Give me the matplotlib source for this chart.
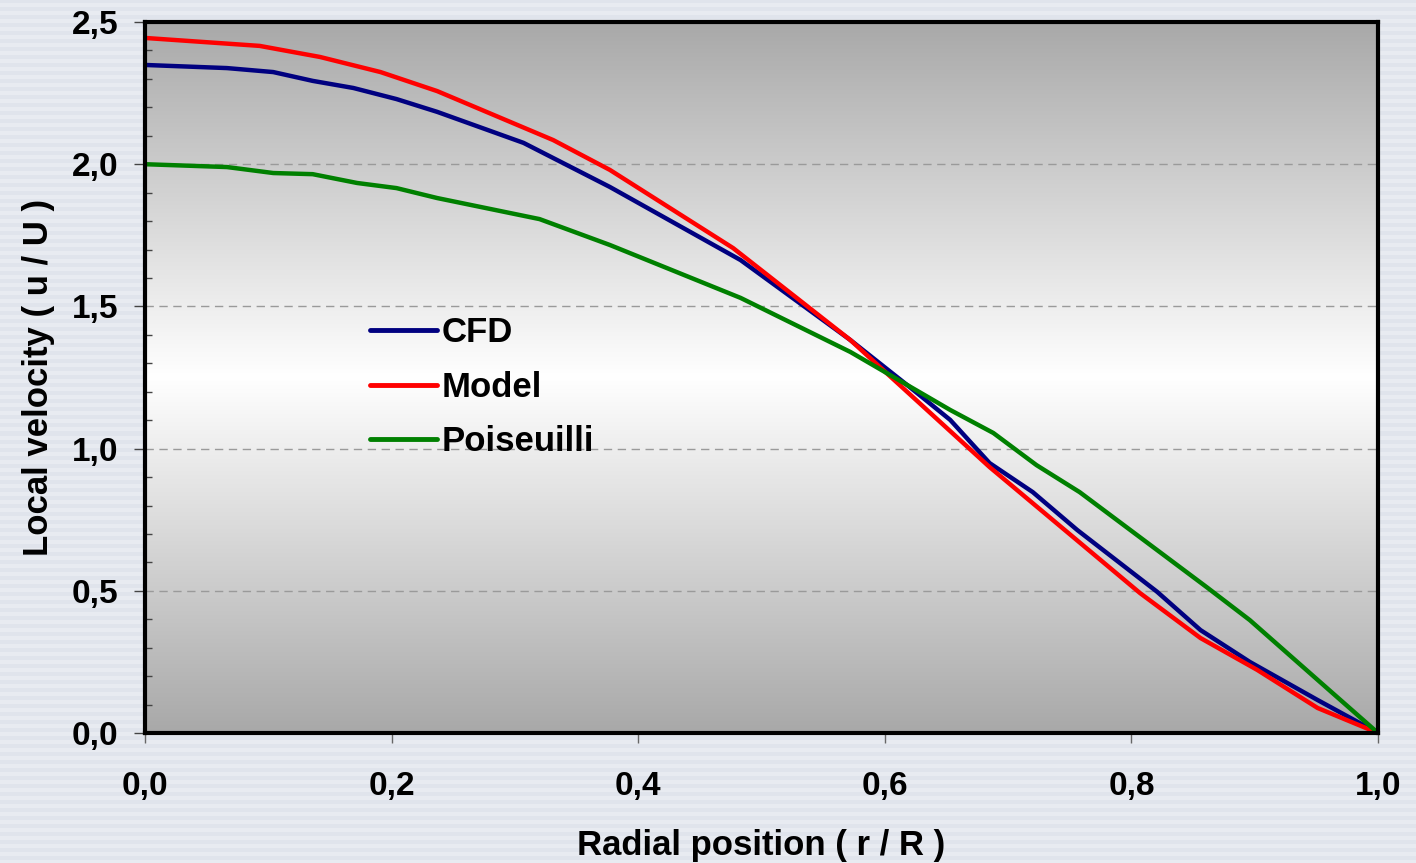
import numpy as np
import matplotlib
matplotlib.use("Agg")
import matplotlib.pyplot as plt
from matplotlib.ticker import MultipleLocator, FuncFormatter

# ---- data ----
cfd_x = [0.0, 0.0665, 0.104, 0.136, 0.169, 0.204, 0.237, 0.307, 0.377, 0.483,
         0.572, 0.620, 0.653, 0.685, 0.720, 0.756, 0.821, 0.856, 0.896, 0.951, 1.0]
cfd_y = [2.349, 2.338, 2.324, 2.293, 2.268, 2.229, 2.184, 2.075, 1.920, 1.663,
         1.382, 1.217, 1.101, 0.949, 0.847, 0.714, 0.496, 0.362, 0.250, 0.116, 0.0]

model_x = [0.0, 0.093, 0.142, 0.191, 0.237, 0.331, 0.377, 0.477, 0.572, 0.685,
           0.807, 0.856, 0.902, 0.951, 1.0]
model_y = [2.444, 2.416, 2.377, 2.324, 2.257, 2.085, 1.980, 1.705, 1.382, 0.935,
           0.492, 0.334, 0.222, 0.088, 0.0]

pois_x = [0.0, 0.0665, 0.104, 0.136, 0.172, 0.204, 0.237, 0.320, 0.377, 0.483,
          0.572, 0.653, 0.688, 0.723, 0.758, 0.861, 0.896, 0.963, 1.0]
pois_y = [2.0, 1.990, 1.969, 1.965, 1.934, 1.916, 1.881, 1.807, 1.716, 1.530,
          1.340, 1.136, 1.055, 0.942, 0.847, 0.513, 0.397, 0.141, 0.0]

series_labels = ["CFD", "Model", "Poiseuilli"]
series_colors = ["#000080", "#ff0000", "#008000"]
x_label = "Radial position ( r / R )"
y_label = "Local velocity ( u / U )"

plt.rcParams['font.family'] = ['Liberation Sans', 'DejaVu Sans']
plt.rcParams['font.weight'] = 'bold'

fig = plt.figure(figsize=(14.16, 8.63), dpi=100)
fig.patch.set_facecolor('#e0e4ec')

# faint horizontal stripes in the figure background
bg = fig.add_axes([0, 0, 1, 1], zorder=-10)
rows = np.arange(863)
stripe = np.where((rows // 4) % 2 == 0, 0.0, 1.0)
img = np.ones((863, 1, 3))
base = np.array([0xe0, 0xe4, 0xec]) / 255.0
light = np.array([0xe8, 0xeb, 0xf1]) / 255.0
img[:, 0, :] = base[None, :] * (1 - stripe[:, None]) + light[None, :] * stripe[:, None]
bg.imshow(img, aspect='auto', extent=[0, 1, 0, 1], interpolation='nearest')
bg.set_axis_off()

ax = fig.add_axes([0.1024, 0.1506, 0.8708, 0.8239])

# vertical gradient: gray - white - gray
t = np.linspace(0, 1, 512)
g = 1 - np.abs(t - 0.5) * 2
vals = 0.66 + (1.0 - 0.66) * g
grad = np.repeat(vals[:, None], 3, axis=1)[:, None, :]
ax.imshow(grad, aspect='auto', extent=[0, 1, 0, 1], transform=ax.transAxes,
          zorder=0, interpolation='bilinear')

for yv in [0.5, 1.0, 1.5, 2.0]:
    ax.axhline(yv, color='#9a9a9a', lw=1.0, ls=(0, (6, 4)), zorder=1)

for xs, ys, lab, col in zip([cfd_x, model_x, pois_x], [cfd_y, model_y, pois_y],
                            series_labels, series_colors):
    ax.plot(xs, ys, color=col, lw=3.2, label=lab, zorder=3,
            solid_joinstyle='round', solid_capstyle='round')

ax.set_xlim(0, 1.0)
ax.set_ylim(0, 2.5)

ax.xaxis.set_major_locator(MultipleLocator(0.2))
ax.yaxis.set_major_locator(MultipleLocator(0.5))
ax.yaxis.set_minor_locator(MultipleLocator(0.1))
fmt = FuncFormatter(lambda v, p: f"{v:.1f}".replace('.', ','))
ax.xaxis.set_major_formatter(fmt)
ax.yaxis.set_major_formatter(fmt)

ax.tick_params(axis='y', which='major', direction='out', length=8, width=1,
               color='#444444', labelsize=24, pad=11)
ax.tick_params(axis='y', which='minor', direction='in', length=5, width=1,
               color='#444444')
ax.tick_params(axis='x', which='major', direction='out', length=7, width=1,
               color='#666666', labelsize=24, pad=20)
for lab in ax.get_xticklabels() + ax.get_yticklabels():
    lab.set_fontweight('bold')

for sp in ax.spines.values():
    sp.set_linewidth(3)
    sp.set_color('black')
    sp.set_zorder(5)

ax.set_xlabel(x_label, fontsize=25, fontweight='bold', labelpad=20)
ax.set_ylabel(y_label, fontsize=25, fontweight='bold', labelpad=12)

leg = ax.legend(loc='upper left', bbox_to_anchor=(0.157, 0.63), frameon=False,
                prop={'size': 25, 'weight': 'bold'}, handlelength=1.93,
                handletextpad=0.15, labelspacing=0.62)
for h in leg.get_lines():
    h.set_linewidth(3.5)

fig.savefig('out.png', dpi=100, facecolor=fig.get_facecolor())
